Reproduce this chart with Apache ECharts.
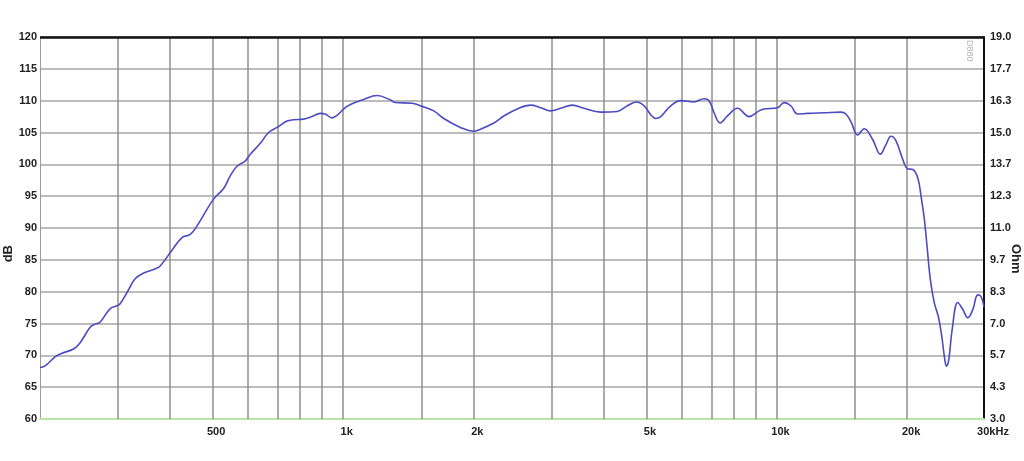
<!DOCTYPE html>
<html>
<head>
<meta charset="utf-8">
<script src="https://cdn.jsdelivr.net/npm/echarts@6/dist/echarts.min.js"></script>
<style>
html,body{margin:0;padding:0;background:#fff;}
#chart{width:1024px;height:461px;}
</style>
</head>
<body>
<div id="chart"></div>
<script>
const freqHz = [200,205,217,224,239,247,261,268,275,290,301,306,320,331,346,369,378,403,425,444,460,502,530,549,569,594,611,644,673,704,742,768,810,847,886,909,942,968,1020,1115,1197,1285,1319,1441,1506,1617,1705,1863,2000,2036,2224,2345,2518,2703,2851,3006,3171,3374,3589,3921,4285,4519,4750,4938,5116,5254,5396,5689,5999,6438,6790,6972,7160,7392,7688,8107,8622,9094,9340,10026,10384,10761,11149,11756,12842,14036,14413,14801,15338,15887,16613,17299,17830,18312,18804,19487,20010,20552,21104,21478,21857,22175,22568,23051,23545,23976,24310,24569,24884,25329,26105,26810,27530,28270,29030,29543,30000];
const splDb = [68.1,68.3,69.8,70.3,71.0,71.9,74.4,74.9,75.2,77.3,77.8,78.1,80.3,82.0,82.9,83.6,84.0,86.5,88.5,89.0,90.3,94.5,96.2,98.2,99.7,100.5,101.6,103.3,105.0,105.8,106.8,107.0,107.1,107.5,108.0,107.9,107.3,107.7,109.1,110.2,110.8,110.1,109.7,109.6,109.2,108.4,107.2,105.8,105.2,105.3,106.5,107.6,108.7,109.3,108.9,108.4,108.8,109.3,108.8,108.2,108.3,109.2,109.8,109.2,107.8,107.2,107.5,109.2,110.0,109.8,110.3,110.0,108.1,106.5,107.6,108.8,107.5,108.4,108.7,108.9,109.7,109.2,107.9,108.0,108.1,108.2,107.9,106.7,104.6,105.6,103.9,101.6,103.1,104.4,103.7,100.8,99.3,99.2,97.9,95.0,91.4,87.1,81.9,78.2,76.1,73.0,69.8,68.3,69.3,74.0,78.3,77.2,75.9,77.2,79.5,79.2,77.6];
const gridFreqs = [300,400,500,600,700,800,900,1000,1500,2000,3000,4000,5000,6000,7000,8000,9000,10000,15000,20000];
const xTickFreqs = [500,1000,2000,5000,10000,20000,30000];
const xTickLabels = ['500','1k','2k','5k','10k','20k','30kHz'];
const ohmLabels = ['3.0','4.3','5.7','7.0','8.3','9.7','11.0','12.3','13.7','15.0','16.3','17.7','19.0'];

const FMIN = 200, FMAX = 30000;
const lg = Math.log10;
const labelFont = {color:'#222', fontFamily:'Liberation Sans, Arial, sans-serif', fontWeight:'bold', fontSize:11};

const chart = echarts.init(document.getElementById('chart'), null, {renderer:'canvas'});
chart.setOption({
  animation:false,
  backgroundColor:'#fff',
  grid:{left:40, right:40, top:37, bottom:42, containLabel:false},
  xAxis:{
    type:'value', min:lg(FMIN), max:lg(FMAX),
    axisLine:{show:true, onZero:false, lineStyle:{color:'#b9e4a6', width:2}},
    axisTick:{show:false},
    splitLine:{show:false},
    axisLabel:Object.assign({
      customValues:xTickFreqs.map(lg),
      margin:7,
      formatter:function(v){
        const f = Math.round(Math.pow(10,v));
        const i = xTickFreqs.indexOf(f);
        if (i < 0) return '';
        return i === xTickFreqs.length-1 ? '{hz|'+xTickLabels[i]+'}' : '{n|'+xTickLabels[i]+'}';
      },
      rich:{
        hz:Object.assign({padding:[0,0,0,18]}, labelFont),
        n:Object.assign({padding:[0,0,0,7]}, labelFont)
      }
    }, labelFont)
  },
  yAxis:[
    {
      type:'value', min:60, max:120, interval:5, position:'left',
      axisLine:{show:true, lineStyle:{color:'#9a9a9a', width:1}},
      axisTick:{show:false},
      splitLine:{show:true, lineStyle:{color:'#a6a6a6', width:1.5}},
      axisLabel:Object.assign({margin:3}, labelFont)
    },
    {
      type:'value', min:0, max:12, interval:1, position:'right',
      axisLine:{show:true, lineStyle:{color:'#111', width:2}},
      axisTick:{show:false},
      splitLine:{show:false},
      axisLabel:Object.assign({margin:6, formatter:function(v){return ohmLabels[Math.round(v)] || '';}}, labelFont)
    }
  ],
  graphic:[
    {type:'text', left:2, top:245, rotation:Math.PI/2, style:{text:'dB', fill:'#222', font:'bold 13px Liberation Sans, Arial, sans-serif'}},
    {type:'text', left:1009, top:244, rotation:-Math.PI/2, style:{text:'Ohm', fill:'#222', font:'bold 13px Liberation Sans, Arial, sans-serif'}},
    {type:'text', left:965, top:40, rotation:-Math.PI/2, style:{text:'D880', fill:'#b5b5b5', font:'9px Liberation Sans, Arial, sans-serif'}}
  ],
  series:[
    {
      type:'line', data:[], z:1, silent:true,
      markLine:{
        silent:true, symbol:['none','none'], label:{show:false},
        lineStyle:{color:'#8f8f8f', width:1.5, type:'solid'},
        data:gridFreqs.map(f=>({xAxis:lg(f)})).concat([{yAxis:120, lineStyle:{color:'#111', width:2.5}}])
      }
    },
    {
      type:'line', z:5,
      data:freqHz.map((f,i)=>[lg(f), splDb[i]]),
      showSymbol:false, smooth:0.4,
      lineStyle:{color:'#4b4bc4', width:1.6}
    }
  ]
});
</script>
</body>
</html>
